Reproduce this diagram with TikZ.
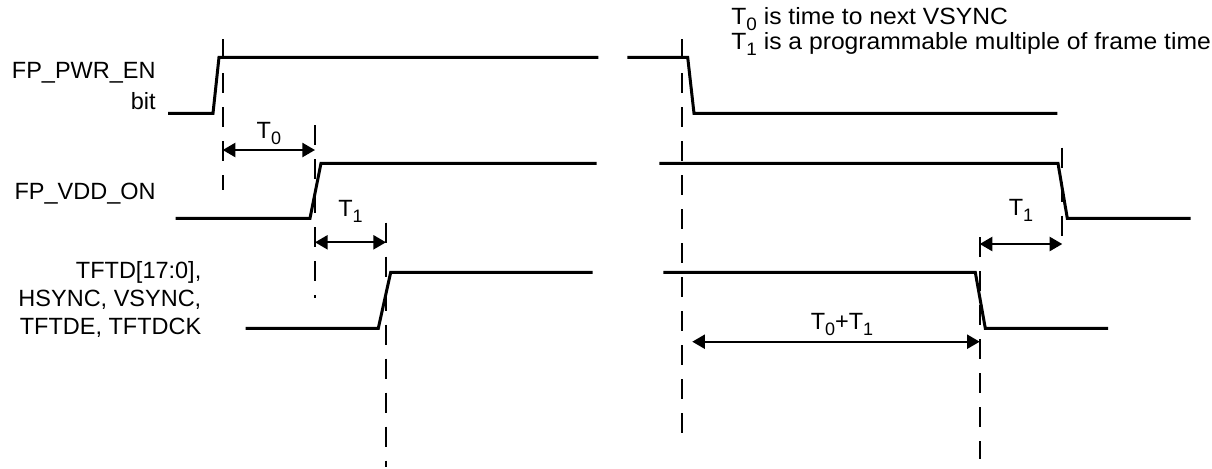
\documentclass[tikz,border=0pt]{standalone}
\usepackage{fontspec}
\setmainfont{Liberation Sans}
\newfontfamily\notefont[FakeStretch=1.05]{Liberation Sans}
\usepackage{tikz}
\usetikzlibrary{arrows.meta}
\newcommand{\subidx}[1]{\raisebox{-3pt}{\fontsize{9}{10}\selectfont #1}}

\begin{document}
\begin{tikzpicture}[x=0.5pt,y=-0.5pt,font=\fontsize{11.75}{14}\selectfont,
    sig/.style={line width=1.5pt},
    guide/.style={line width=1pt,dash pattern=on 10pt off 7pt},
    span/.style={line width=1.1pt,{Triangle[length=6.3pt,width=7pt]}-{Triangle[length=6.3pt,width=7pt]}},
    lbl/.style={inner sep=0pt,anchor=base east},
    note/.style={inner sep=0pt,anchor=base west,font=\notefont\fontsize{11.75}{14}\selectfont},
    tlbl/.style={inner sep=0pt,anchor=base,midway}]
        \useasboundingbox (0,0) rectangle (1212,468);
        % signal names
        \node[lbl] (pwr) at (156,78) {FP\_PWR\_EN};
        \node[lbl] (pwrbit) at (156,109.5) {bit};
        \node[lbl] (vdd) at (156,199) {FP\_VDD\_ON};
        \node[inner sep=0pt,anchor=north east,align=right] (tft) at (201.7,261)
            {TFTD[17:0],\\HSYNC, VSYNC,\\TFTDE, TFTDCK};
        \node[note] (note0) at (731,24.5) {T\subidx{0} is time to next VSYNC};
        \node[note] (note1) at (731,49.5) {T\subidx{1} is a programmable multiple of frame time};

        % waveforms
        \def\hiA{57.3}  \def\loA{113.3}
        \def\hiB{163.3} \def\loB{218.3}
        \def\hiC{272.3} \def\loC{328.3}
        \draw[sig] (168,\loA) -- (213,\loA) -- (219,\hiA) -- (598.3,\hiA);
        \draw[sig] (627.3,\hiA) -- (687.7,\hiA) -- (694,\loA) -- (1057.3,\loA);
        \draw[sig] (175.7,\loB) -- (310,\loB) -- (321,\hiB) -- (596.7,\hiB);
        \draw[sig] (659.3,\hiB) -- (1058,\hiB) -- (1067.3,\loB) -- (1190.7,\loB);
        \draw[sig] (245.7,\loC) -- (378.3,\loC) -- (390.7,\hiC) -- (592.7,\hiC);
        \draw[sig] (663.3,\hiC) -- (975.3,\hiC) -- (985.3,\loC) -- (1108,\loC);

        % guides
        \foreach \gx/\gt/\gb in {222.7/39/190, 315/125.3/298, 386/222.7/467,
                682/39.3/436.7, 1062.3/147.7/249, 979.7/237/459.3} {
            \draw[guide] (\gx,\gt) -- (\gx,\gb);
        }

        % intervals
        \coordinate (t0a) at (222.7,150);   \coordinate (t0b) at (315,150);
        \coordinate (t1a) at (315,242.3);   \coordinate (t1b) at (386,242.3);
        \coordinate (t1c) at (979.7,244);   \coordinate (t1d) at (1062.3,244);
        \coordinate (t01a) at (692.3,341.7); \coordinate (t01b) at (979.7,341.7);
        \draw[span] (t0a) -- node[tlbl,yshift=6pt] {T\subidx{0}} (t0b);
        \draw[span] (t1a) -- node[tlbl,yshift=12.8pt] {T\subidx{1}} (t1b);
        \draw[span] (t1c) -- node[tlbl,yshift=14.5pt] {T\subidx{1}} (t1d);
        \draw[span] (t01a) -- node[tlbl,yshift=6.3pt,xshift=3pt] {T\subidx{0}+T\subidx{1}} (t01b);
\end{tikzpicture}
\end{document}
